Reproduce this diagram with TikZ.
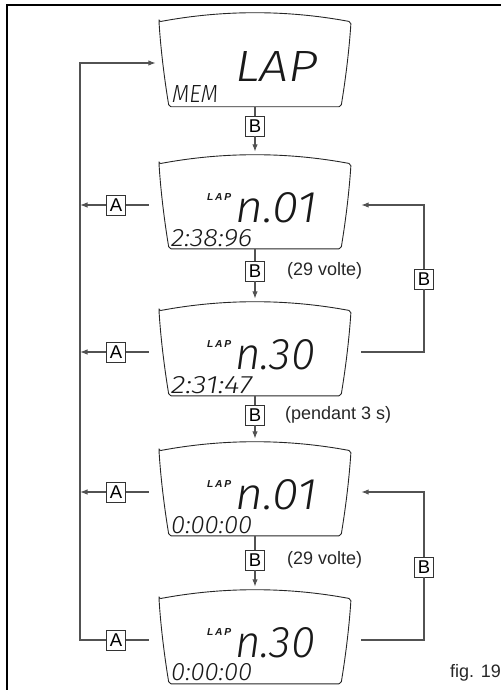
\documentclass[tikz,border=0pt]{standalone}
\usepackage{fontspec}
\setmainfont{Liberation Sans}
\newfontfamily\lcdfont{Fira Sans Light Italic}
\usetikzlibrary{arrows.meta}

% LCD style text squeezed into a given box (width, height)
\newcommand\lcdtext[3]{\resizebox{#1pt}{#2pt}{\lcdfont #3}}
\newcommand\lcdtag[3]{\resizebox{#1pt}{#2pt}{\bfseries\itshape #3}}

% outline of one LCD screen, hung from the top of its node
\newcommand\screenoutline[1]{%
  \begin{scope}[shift={(#1.north)}]
    \draw[lcdline] (-96,9) .. controls (-32,-3) and (32,-3) .. (96,9)
      .. controls (94,40) and (90,70) .. (86,94) -- (-86,94)
      .. controls (-90,70) and (-94,40) .. (-96,9) -- cycle;
  \end{scope}}

\tikzset{
  frameline/.style={line width=1.4pt, draw=black},
  wire/.style={line width=1.2pt, draw=black!68},
  feed/.style={wire, -{Latex[length=7.5pt,width=5.5pt]}},
  keybox/.style={draw=black!80, line width=0.9pt, fill=white,
    minimum width=19pt, minimum height=20pt, inner sep=0pt,
    font=\fontsize{18.5}{18.5}\selectfont},
  dispbox/.style={minimum width=212pt, minimum height=100pt, inner sep=0pt},
  lcdline/.style={line width=0.9pt, draw=black!85, line join=round, rounded corners=2pt},
  note/.style={font=\fontsize{18}{18}\selectfont, anchor=west, text=black!85, inner sep=0pt},
  lcd/.style={inner sep=0pt, anchor=south west, text=black!90},
}

\begin{document}
\begin{tikzpicture}[x=1pt,y=-1pt]
\useasboundingbox (0,0) rectangle (501,690);

% page rules
\draw[frameline] (7,690) -- (7,5) -- (501,5);

% screens
\node[dispbox] (d1) at (255,63) {};
\node[dispbox] (d2) at (255,205) {};
\node[dispbox] (d3) at (255,352) {};
\node[dispbox] (d4) at (255,492) {};
\node[dispbox] (d5) at (255,640) {};
\foreach \d in {d1,d2,d3,d4,d5} {\screenoutline{\d}}

% screen contents
\node[lcd] (t1a) at (235,82) {\lcdtext{83}{30}{LAP}};
\node[lcd] (t1b) at (172,103) {\lcdtext{46}{17}{MEM}};

\node[lcd] (t2a) at (207,201) {\lcdtag{24}{7}{L\,A\,P}};
\node[lcd] (t2b) at (235,223) {\lcdtext{82}{30}{n.01}};
\node[lcd] (t2c) at (171,247) {\lcdtext{81}{17}{2:38:96}};

\node[lcd] (t3a) at (207,348) {\lcdtag{24}{7}{L\,A\,P}};
\node[lcd] (t3b) at (235,370) {\lcdtext{80}{30}{n.30}};
\node[lcd] (t3c) at (171,394) {\lcdtext{81}{17}{2:31:47}};

\node[lcd] (t4a) at (207,488) {\lcdtag{24}{7}{L\,A\,P}};
\node[lcd] (t4b) at (235,510) {\lcdtext{82}{30}{n.01}};
\node[lcd] (t4c) at (171,534) {\lcdtext{81}{17}{0:00:00}};

\node[lcd] (t5a) at (207,636) {\lcdtag{24}{7}{L\,A\,P}};
\node[lcd] (t5b) at (235,658) {\lcdtext{80}{30}{n.30}};
\node[lcd] (t5c) at (171,681) {\lcdtext{81}{17}{0:00:00}};

% key B between screens
\node[keybox] (b1) at (255,126) {B};
\node[keybox] (b2) at (255,271) {B};
\node[keybox] (b3) at (255,415) {B};
\node[keybox] (b4) at (255,560) {B};
\draw[wire] ([yshift=6pt]d1.south) -- (b1.north);
\draw[feed, shorten >=3pt] (b1.south) -- (d2.north);
\draw[wire] ([yshift=6pt]d2.south) -- (b2.north);
\draw[feed, shorten >=3pt] (b2.south) -- (d3.north);
\draw[wire] ([yshift=6pt]d3.south) -- (b3.north);
\draw[feed, shorten >=3pt] (b3.south) -- (d4.north);
\draw[wire] ([yshift=6pt]d4.south) -- (b4.north);
\draw[feed, shorten >=3pt] (b4.south) -- (d5.north);

\node[note] (n1) at (287,271) {(29 volte)};
\node[note] (n2) at (285,415) {(pendant 3 s)};
\node[note] (n3) at (287,560) {(29 volte)};

% key A: back to the first screen
\coordinate (lt) at (80,63);
\node[keybox] (a2) at (116,205) {A};
\node[keybox] (a3) at (116,352) {A};
\node[keybox] (a4) at (116,492) {A};
\node[keybox] (a5) at (116,640) {A};
\draw[feed] (a5.west) -| (lt) -- ([xshift=7pt]d1.west);
\draw[feed] (a2.west) -- (a2.west -| lt);
\draw[feed] (a3.west) -- (a3.west -| lt);
\draw[feed] (a4.west) -- (a4.west -| lt);
\draw[wire] (a2.east) -- (a2.east -| d2.west);
\draw[wire] (a3.east) -- (a3.east -| d3.west);
\draw[wire] (a4.east) -- (a4.east -| d4.west);
\draw[wire] (a5.east) -- (a5.east -| d5.west);

% key B on the right: from lap 30 back to lap 01
\node[keybox] (rb1) at (424,279) {B};
\node[keybox] (rb2) at (424,567) {B};
\draw[wire] (d3.east) -| (rb1.south);
\draw[feed] (rb1.north) |- (d2.east);
\draw[wire] (d5.east) -| (rb2.south);
\draw[feed] (rb2.north) |- (d4.east);

\node[note] (fig) at (450,673) {fig. 19};
\end{tikzpicture}
\end{document}
